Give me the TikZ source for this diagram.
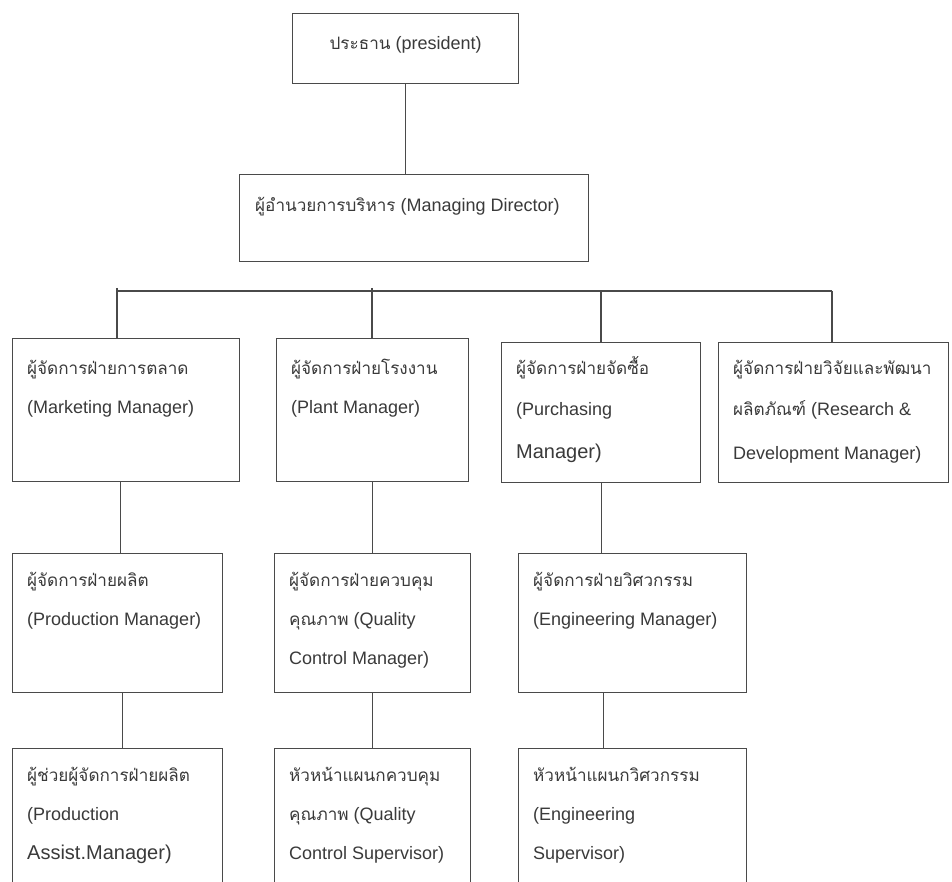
\documentclass[tikz,border=0pt]{standalone}
\usepackage{fontspec}
\setmainfont{Liberation Sans}
\newfontfamily\thaifont[Script=Thai,Scale=0.95]{Loma}
\definecolor{txtc}{HTML}{3A3A3A}
\definecolor{linec}{HTML}{4A4A4A}
\newcommand\thtxt[1]{{\thaifont #1}}
\newcommand\bigtxt[1]{{\fontsize{20}{40}\selectfont #1}}
\newcommand\obox[7][]{%
  \node[box, anchor=north west, minimum width={#5-#3}, minimum height={#6-#4}] (#2) at (#3,#4) {};
  \node[txt, #1] (#2t) at ([xshift=15pt,yshift=-13pt]#2.north west) {\rule{0pt}{20pt}#7};
}
\begin{document}
\begin{tikzpicture}[x=1pt,y=-1pt,
  box/.style={draw=linec, line width=1.2pt, rectangle, inner sep=0pt},
  txt/.style={anchor=north west, inner sep=0pt, align=left, text=txtc, font=\fontsize{18}{39}\selectfont},
  wide/.style={font=\fontsize{18}{41}\selectfont},
  conn/.style={draw=linec, line width=1.1pt}]
\useasboundingbox (0,0) rectangle (952,882);
\clip (0,0) rectangle (952,882);
\fill[white] (0,0) rectangle (952,882);

% top
\node[box, anchor=north west, minimum width=226, minimum height=70] (pres) at (292,13) {};
\node[txt, anchor=north] (prest) at ([yshift=-16pt]pres.north) {\rule{0pt}{20pt}\thtxt{ประธาน} (president)};
\node[box, anchor=north west, minimum width=349, minimum height=87] (md) at (239,174) {};
\node[txt] (mdt) at ([xshift=16pt,yshift=-17pt]md.north west) {\rule{0pt}{20pt}\thtxt{ผู้อำนวยการบริหาร} (Managing Director)};

% row 1
\obox[yshift=-3pt]{mkt}{12}{338}{239}{481}{\thtxt{ผู้จัดการฝ่ายการตลาด}\\(Marketing Manager)}
\obox[yshift=-3pt]{plant}{276}{338}{468}{481}{\thtxt{ผู้จัดการฝ่ายโรงงาน}\\(Plant Manager)}
\obox[wide,yshift=1pt]{purch}{501}{342}{700}{482}{\thtxt{ผู้จัดการฝ่ายจัดซื้อ}\\(Purchasing\\[2pt]\bigtxt{Manager)}}
\obox[wide,yshift=1pt]{rd}{718}{342}{948}{482}{\thtxt{ผู้จัดการฝ่ายวิจัยและพัฒนา}\\\thtxt{ผลิตภัณฑ์} (Research \&\\[3pt]Development Manager)}

% row 2
\obox{prod}{12}{553}{222}{692}{\thtxt{ผู้จัดการฝ่ายผลิต}\\(Production Manager)}
\obox{qcm}{274}{553}{470}{692}{\thtxt{ผู้จัดการฝ่ายควบคุม}\\\thtxt{คุณภาพ} (Quality\\Control Manager)}
\obox{engm}{518}{553}{746}{692}{\thtxt{ผู้จัดการฝ่ายวิศวกรรม}\\(Engineering Manager)}

% row 3
\obox{pam}{12}{748}{222}{900}{\thtxt{ผู้ช่วยผู้จัดการฝ่ายผลิต}\\(Production\\\bigtxt{Assist.Manager)}}
\obox{qcs}{274}{748}{470}{900}{\thtxt{หัวหน้าแผนกควบคุม}\\\thtxt{คุณภาพ} (Quality\\Control Supervisor)}
\obox{engs}{518}{748}{746}{900}{\thtxt{หัวหน้าแผนกวิศวกรรม}\\(Engineering\\Supervisor)}

% connectors
\draw[conn] (pres.south) -- (pres.south |- md.north);
\coordinate (busL) at (117,291);
\coordinate (busR) at (832,291);
\coordinate (d1) at (117,288);
\coordinate (d2) at (372,288);
\coordinate (d3) at (601,291);
\coordinate (d4) at (832,291);
\draw[conn] (busL) -- (busR);
\draw[conn] (d1) -- (d1 |- mkt.north);
\draw[conn] (d2) -- (d2 |- plant.north);
\draw[conn] (d3) -- (d3 |- purch.north);
\draw[conn] (d4) -- (d4 |- rd.north);
\draw[conn] ([xshift=3pt]prod.north |- mkt.south) -- ([xshift=3pt]prod.north);
\draw[conn] (qcm.north |- plant.south) -- (qcm.north);
\draw[conn] (purch.south) -- (purch.south |- engm.north);
\draw[conn] ([xshift=5pt]prod.south) -- ([xshift=5pt]pam.north);
\draw[conn] (qcm.south) -- (qcs.north);
\draw[conn] ([xshift=-29pt]engm.south) -- ([xshift=-29pt]engs.north);
\end{tikzpicture}
\end{document}
